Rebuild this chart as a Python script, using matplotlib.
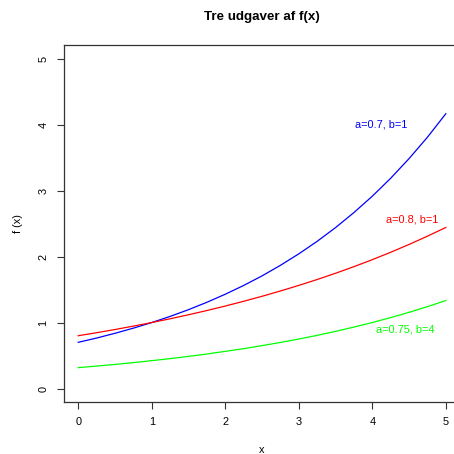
import numpy as np
import matplotlib
matplotlib.use("Agg")
import matplotlib.pyplot as plt

plt.rcParams["font.family"] = ["Liberation Sans", "DejaVu Sans"]

# values, x = 0, 0.25, ..., 5
x = [0.0, 0.25, 0.5, 0.75, 1.0, 1.25, 1.5, 1.75, 2.0, 2.25, 2.5,
     2.75, 3.0, 3.25, 3.5, 3.75, 4.0, 4.25, 4.5, 4.75, 5.0]
f_blue = [0.700, 0.765, 0.837, 0.915, 1.000, 1.093, 1.195, 1.307, 1.429,
          1.562, 1.707, 1.867, 2.041, 2.231, 2.439, 2.667, 2.915, 3.187,
          3.485, 3.809, 4.165]
f_red = [0.800, 0.846, 0.894, 0.946, 1.000, 1.057, 1.118, 1.182, 1.250,
         1.322, 1.398, 1.478, 1.563, 1.652, 1.747, 1.847, 1.953, 2.065,
         2.184, 2.309, 2.441]
f_green = [0.316, 0.340, 0.365, 0.393, 0.422, 0.453, 0.487, 0.523, 0.563,
           0.604, 0.650, 0.698, 0.750, 0.806, 0.866, 0.931, 1.000, 1.075,
           1.155, 1.241, 1.333]

labels = ["a=0.7, b=1", "a=0.8, b=1", "a=0.75, b=4"]
label_pos = [(4.12, 4.0), (4.54, 2.56), (4.45, 0.90)]
colors = ["#0000ff", "#ff0000", "#00ff00"]

fig = plt.figure(figsize=(4.54, 4.54), dpi=100)
ax = fig.add_axes([0.1399, 0.1152, 0.8744, 0.7846])

for ys, c in zip([f_blue, f_red, f_green], colors):
    ax.plot(x, ys, color=c, lw=0.9)
for lab, (tx, ty), c in zip(labels, label_pos, colors):
    ax.text(tx, ty, lab, color=c, fontsize=7.9, ha="center", va="center")

ax.set_xlim(-0.2, 5.2)
ax.set_ylim(-0.2, 5.2)
ax.set_xticks(range(6))
ax.set_yticks(range(6))
ax.tick_params(direction="out", length=5, width=0.8, labelsize=7.9,
               pad=6, color="#333333")
for lab in ax.get_yticklabels():
    lab.set_rotation(90)
    lab.set_va("center")
for sp in ax.spines.values():
    sp.set_linewidth(0.9)
    sp.set_color("#333333")
ax.spines["right"].set_visible(False)

ax.set_xlabel("x", fontsize=7.9, labelpad=13)
ax.set_ylabel("f (x)", fontsize=7.9, labelpad=11)
ax.set_title("Tre udgaver af f(x)", fontsize=9.6, fontweight="bold", pad=18)

fig.savefig("out.png", dpi=100)
